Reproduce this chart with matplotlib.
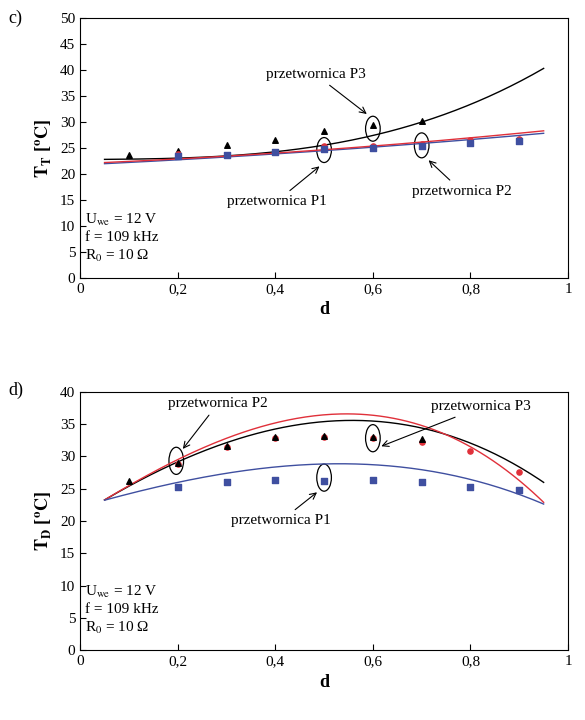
import numpy as np
import matplotlib
matplotlib.use("Agg")
import matplotlib.pyplot as plt
from matplotlib.patches import Ellipse

plt.rcParams['font.family'] = ['Liberation Serif', 'DejaVu Serif']
plt.rcParams['mathtext.fontset'] = 'stix'

# panel c
c_x3 = [0.1, 0.2, 0.3, 0.4, 0.5, 0.6, 0.7]
c_p3 = [23.6, 24.4, 25.5, 26.5, 28.3, 29.5, 30.2]
c_x = [0.2, 0.3, 0.4, 0.5, 0.6, 0.7, 0.8, 0.9]
c_p1 = [23.4, 23.6, 24.2, 24.8, 24.9, 25.3, 26.0, 26.3]
c_p2 = [23.8, 23.7, 24.3, 25.3, 25.3, 25.7, 26.5, 26.8]
c_curve_x = [0.05, 0.3, 0.5, 0.7, 0.95]
c_curve_p3 = [22.8, 23.5, 25.5, 30.0, 40.3]
c_curve_p1 = [22.0, 23.2, 24.5, 25.9, 27.8]
c_curve_p2 = [22.2, 23.4, 24.7, 26.1, 28.3]

# panel d
d_x3 = [0.1, 0.2, 0.3, 0.4, 0.5, 0.6, 0.7]
d_p3 = [26.2, 29.0, 31.6, 33.0, 33.2, 33.0, 32.6]
d_x = [0.2, 0.3, 0.4, 0.5, 0.6, 0.7, 0.8, 0.9]
d_p2 = [28.8, 31.5, 32.8, 33.0, 32.8, 32.2, 30.8, 27.6]
d_p1 = [25.2, 26.0, 26.3, 26.2, 26.3, 26.0, 25.3, 24.8]
d_curve_x = [0.05, 0.3, 0.53, 0.75, 0.95]
d_curve_p3 = [23.2, 32.3, 35.2, 33.6, 25.9]
d_curve_p2 = [23.2, 33.0, 36.2, 33.6, 22.8]
d_curve_p1 = [23.2, 27.4, 28.8, 27.3, 22.6]

def curve(xs, ys, deg):
    p = np.polyfit(xs, ys, deg)
    xx = np.linspace(0.05, 0.95, 200)
    return xx, np.polyval(p, xx)

fig = plt.figure(figsize=(5.85, 7.2), dpi=100)
ax1 = fig.add_axes([0.137, 0.614, 0.834, 0.361])
ax2 = fig.add_axes([0.137, 0.097, 0.834, 0.359])

BLUE = '#3f4fa0'; RED = '#e0303a'

for ax in (ax1, ax2):
    ax.set_xlim(0, 1)
    ax.set_xticks([0, 0.2, 0.4, 0.6, 0.8, 1])
    ax.set_xticklabels(['0', '0,2', '0,4', '0,6', '0,8', '1'])
    ax.tick_params(labelsize=11, direction='in', length=4)
    ax.set_xlabel('d', fontsize=13, fontweight='bold')

# c
ax1.set_ylim(0, 50); ax1.set_yticks(range(0, 51, 5))
xx, yy = curve(c_curve_x, c_curve_p3, 3); ax1.plot(xx, yy, color='black', lw=1)
xx, yy = curve(c_curve_x, c_curve_p1, 2); ax1.plot(xx, yy, color=BLUE, lw=1)
xx, yy = curve(c_curve_x, c_curve_p2, 2); ax1.plot(xx, yy, color=RED, lw=1)
ax1.scatter(c_x3, c_p3, marker='^', s=16, color='black', zorder=3)
ax1.scatter(c_x, c_p2, marker='o', s=14, color=RED, zorder=3)
ax1.scatter(c_x, c_p1, marker='s', s=14, color=BLUE, zorder=4)
ax1.set_ylabel(r'$\mathbf{T_T}$ [$\mathbf{^oC}$]', fontsize=13, fontweight='bold')
for (x, y) in [(0.6, 28.7), (0.5, 24.6), (0.7, 25.5)]:
    ax1.add_patch(Ellipse((x, y), 0.03, 4.8, fill=False, lw=0.9))
ax1.annotate('przetwornica P3', xy=(0.592, 31.2), xytext=(0.38, 38.5), fontsize=11,
             arrowprops=dict(arrowstyle='->', lw=0.8))
ax1.annotate('przetwornica P1', xy=(0.495, 21.8), xytext=(0.3, 14), fontsize=11,
             arrowprops=dict(arrowstyle='->', lw=0.8))
ax1.annotate('przetwornica P2', xy=(0.71, 23.0), xytext=(0.68, 16), fontsize=11,
             arrowprops=dict(arrowstyle='->', lw=0.8))
ax1.text(0.01, 3.5, 'U$_{\\rm we}$ = 12 V\nf = 109 kHz\nR$_0$ = 10 Ω', fontsize=11, linespacing=1.3)
fig.text(0.015, 0.968, 'c)', fontsize=13)

# d
ax2.set_ylim(0, 40); ax2.set_yticks(range(0, 41, 5))
xx, yy = curve(d_curve_x, d_curve_p3, 3); ax2.plot(xx, yy, color='black', lw=1)
xx, yy = curve(d_curve_x, d_curve_p2, 3); ax2.plot(xx, yy, color=RED, lw=1)
xx, yy = curve(d_curve_x, d_curve_p1, 3); ax2.plot(xx, yy, color=BLUE, lw=1)
ax2.scatter(d_x, d_p2, marker='o', s=14, color=RED, zorder=3)
ax2.scatter(d_x3, d_p3, marker='^', s=16, color='black', zorder=4)
ax2.scatter(d_x, d_p1, marker='s', s=14, color=BLUE, zorder=3)
ax2.set_ylabel(r'$\mathbf{T_D}$ [$\mathbf{^oC}$]', fontsize=13, fontweight='bold')
for (x, y) in [(0.197, 29.3), (0.6, 32.8), (0.5, 26.7)]:
    ax2.add_patch(Ellipse((x, y), 0.03, 4.2, fill=False, lw=0.9))
ax2.annotate('przetwornica P2', xy=(0.207, 30.8), xytext=(0.18, 37.6), fontsize=11,
             arrowprops=dict(arrowstyle='->', lw=0.8))
ax2.annotate('przetwornica P3', xy=(0.612, 31.4), xytext=(0.72, 37.1), fontsize=11,
             arrowprops=dict(arrowstyle='->', lw=0.8))
ax2.annotate('przetwornica P1', xy=(0.49, 24.7), xytext=(0.31, 19.5), fontsize=11,
             arrowprops=dict(arrowstyle='->', lw=0.8))
ax2.text(0.01, 2.8, 'U$_{\\rm we}$ = 12 V\nf = 109 kHz\nR$_0$ = 10 Ω', fontsize=11, linespacing=1.3)
fig.text(0.015, 0.452, 'd)', fontsize=13)

fig.savefig('out.png', dpi=100)
